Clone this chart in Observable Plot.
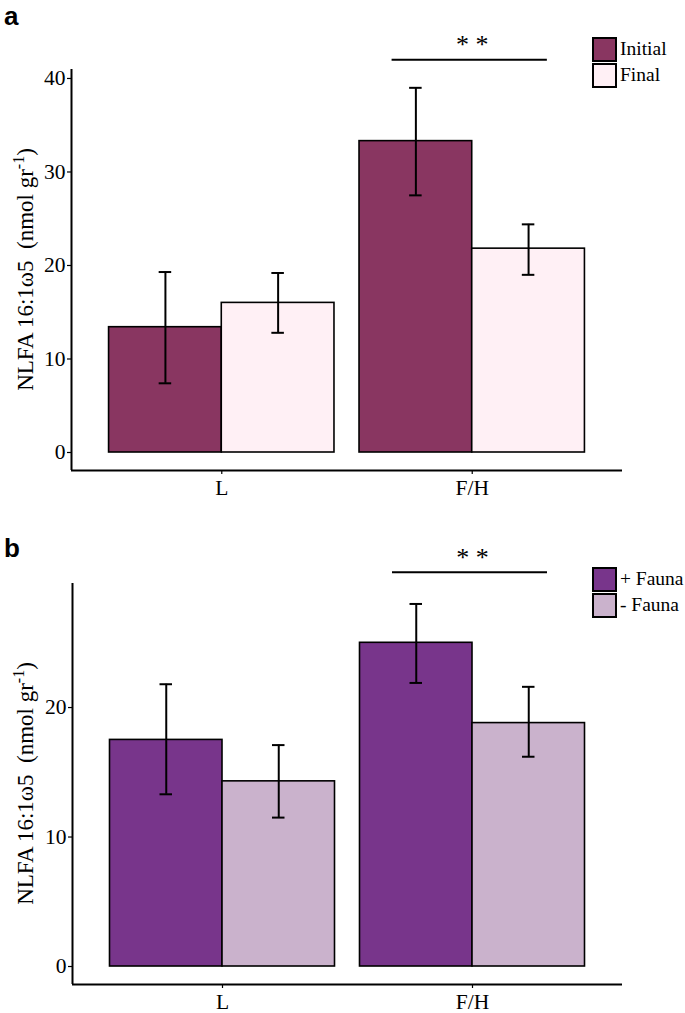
<!DOCTYPE html>
<html>
<head>
<meta charset="utf-8">
<script src="https://cdn.jsdelivr.net/npm/d3@7"></script>
<script src="https://cdn.jsdelivr.net/npm/@observablehq/plot@0.6"></script>
<style>
  body { margin: 0; background: #fff; }
  #wrap { position: relative; width: 685px; height: 1013px; font-family: 'Liberation Serif', 'DejaVu Serif', serif; color: #000; }
  #wrap svg text { font-family: 'Liberation Serif', 'DejaVu Serif', serif; }
  .panel { position: absolute; left: 0; }
  .letter { position: absolute; font-family: 'Liberation Sans', Arial, sans-serif !important; font-weight: bold; font-size: 26px; line-height: 1; }
  .legend { position: absolute; font-size: 19.5px; }
  .legend .row { display: flex; align-items: center; height: 26px; }
  .legend .sw { width: 25px; height: 25px; box-sizing: border-box; border: 2px solid #000; margin-right: 3px; }
</style>
</head>
<body>
<div id="wrap"></div>
<script>
// ---------- data ----------
const sites = ["L", "F/H"];

const groupsA = ["Initial", "Final"];
const colorsA = ["#893661", "#fff0f5"];
const meanA_Initial = [13.4, 33.3];
const lowA_Initial  = [7.4, 27.5];
const highA_Initial = [19.3, 39.0];
const meanA_Final   = [16.0, 21.8];
const lowA_Final    = [12.8, 19.0];
const highA_Final   = [19.2, 24.4];
const ticksA = [0, 10, 20, 30, 40];

const groupsB = ["+ Fauna", "- Fauna"];
const colorsB = ["#78358b", "#cab2cc"];
const meanB_Plus  = [17.5, 25.0];
const lowB_Plus   = [13.3, 21.9];
const highB_Plus  = [21.8, 28.0];
const meanB_Minus = [14.3, 18.8];
const lowB_Minus  = [11.5, 16.2];
const highB_Minus = [17.1, 21.6];
const ticksB = [0, 10, 20];

// significance annotations (between F/H groups)
const sigLabel = ["* *"];
const sigA = {site: "F/H", y: 42.0, starY: 43.6};
const sigB = {site: "F/H", y: 30.45, starY: 31.6};

const yLabel = ["NLFA 16:1\u03c95  (nmol gr", "-1", ")"];

const SERIF = "'Liberation Serif', 'DejaVu Serif', serif";

// ---------- helpers ----------
function rowsFor(groups, means, lows, highs) {
  const rows = [];
  sites.forEach((s, si) => {
    groups.forEach((g, gi) => {
      rows.push({site: s, si: si + 1, group: g, gi, mean: means[gi][si], lo: lows[gi][si], hi: highs[gi][si]});
    });
  });
  return rows;
}

const W = 685;
function panel({rows, colors, ticks, yDomain, height, marginTop, marginBottom, marginLeft, sig}) {
  const bw = 0.45, cap = 0.025;
  const cx = d => d.si - bw / 2 + d.gi * bw;
  const sSite = sites.indexOf(sig.site) + 1;
  const sigRow = [{x1: sSite - 0.32, x2: sSite + 0.3, y: sig.y, sy: sig.starY, label: sigLabel[0], x: sSite}];
  const plot = Plot.plot({
    width: W, height, marginTop, marginBottom, marginLeft, marginRight: 63,
    style: {background: "white", color: "black", fontFamily: SERIF, overflow: "visible"},
    x: {type: "linear", domain: [0.4, 2.6], axis: null},
    y: {domain: yDomain, axis: null},
    marks: [
      Plot.rectY(rows, {x1: d => d.si - bw + d.gi * bw, x2: d => d.si + d.gi * bw, y1: 0, y2: "mean",
        fill: d => colors[d.gi], stroke: "black", strokeWidth: 1.6}),
      Plot.ruleX(rows, {x: cx, y1: "lo", y2: "hi", stroke: "black", strokeWidth: 2}),
      Plot.ruleY(rows, {y: "hi", x1: d => cx(d) - cap, x2: d => cx(d) + cap, stroke: "black", strokeWidth: 2}),
      Plot.ruleY(rows, {y: "lo", x1: d => cx(d) - cap, x2: d => cx(d) + cap, stroke: "black", strokeWidth: 2}),
      Plot.ruleX([0.4], {y1: yDomain[0], y2: yDomain[1], stroke: "black", strokeWidth: 2}),
      Plot.ruleY([yDomain[0]], {x1: 0.4, x2: 2.6, stroke: "black", strokeWidth: 2}),
      Plot.axisY({ticks, tickSize: 4, tickPadding: 2, fontSize: 21.5, label: null, stroke: "black", strokeWidth: 1.2}),
      Plot.axisX({ticks: [1, 2], tickFormat: i => sites[i - 1], tickSize: 4, tickPadding: 5, fontSize: 21.5, label: null,
        anchor: "bottom", stroke: "black", strokeWidth: 1.2}),
      Plot.ruleY(sigRow, {y: "y", x1: "x1", x2: "x2", stroke: "black", strokeWidth: 2}),
      Plot.text(sigRow, {x: "x", y: "sy", text: "label", fontSize: 26, fill: "black"})
    ]
  });
  // rotated y-axis label with superscript
  const svg = d3.select(plot);
  const cy = marginTop + (height - marginTop - marginBottom) / 2;
  const t = svg.append("text")
    .attr("transform", `translate(33,${cy}) rotate(-90)`)
    .attr("text-anchor", "middle")
    .attr("font-size", 23)
    .style("font-family", SERIF)
    .attr("fill", "black");
  t.append("tspan").text(yLabel[0]);
  t.append("tspan").attr("dy", -9).attr("font-size", 16).text(yLabel[1]);
  t.append("tspan").attr("dy", 9).text(yLabel[2]);
  return plot;
}

function legend(groups, colors, left, top) {
  const div = document.createElement("div");
  div.className = "legend";
  div.style.left = left + "px";
  div.style.top = top + "px";
  groups.forEach((g, i) => {
    const row = document.createElement("div");
    row.className = "row";
    const sw = document.createElement("span");
    sw.className = "sw";
    sw.style.background = colors[i];
    const lab = document.createElement("span");
    lab.textContent = g;
    row.appendChild(sw); row.appendChild(lab);
    div.appendChild(row);
  });
  return div;
}

const wrap = document.getElementById("wrap");

const pA = panel({
  rows: rowsFor(groupsA, [meanA_Initial, meanA_Final], [lowA_Initial, lowA_Final], [highA_Initial, highA_Final]),
  colors: colorsA, ticks: ticksA, yDomain: [-1.925, 40.96], height: 510, marginTop: 69, marginBottom: 40, marginLeft: 71, sig: sigA
});
pA.classList.add("panel"); pA.style.top = "0px";
wrap.appendChild(pA);

const pB = panel({
  rows: rowsFor(groupsB, [meanB_Plus, meanB_Minus], [lowB_Plus, lowB_Minus], [highB_Plus, highB_Minus]),
  colors: colorsB, ticks: ticksB, yDomain: [-1.39, 29.58], height: 500, marginTop: 70, marginBottom: 29, marginLeft: 72, sig: sigB
});
pB.classList.add("panel"); pB.style.top = "513px";
wrap.appendChild(pB);

wrap.appendChild(legend(groupsA, colorsA, 592, 36));
wrap.appendChild(legend(groupsB, colorsB, 592, 566));

const la = document.createElement("div"); la.className = "letter"; la.textContent = "a"; la.style.left = "4px"; la.style.top = "3px";
const lb = document.createElement("div"); lb.className = "letter"; lb.textContent = "b"; lb.style.left = "4px"; lb.style.top = "535px";
wrap.appendChild(la); wrap.appendChild(lb);
</script>
</body>
</html>
